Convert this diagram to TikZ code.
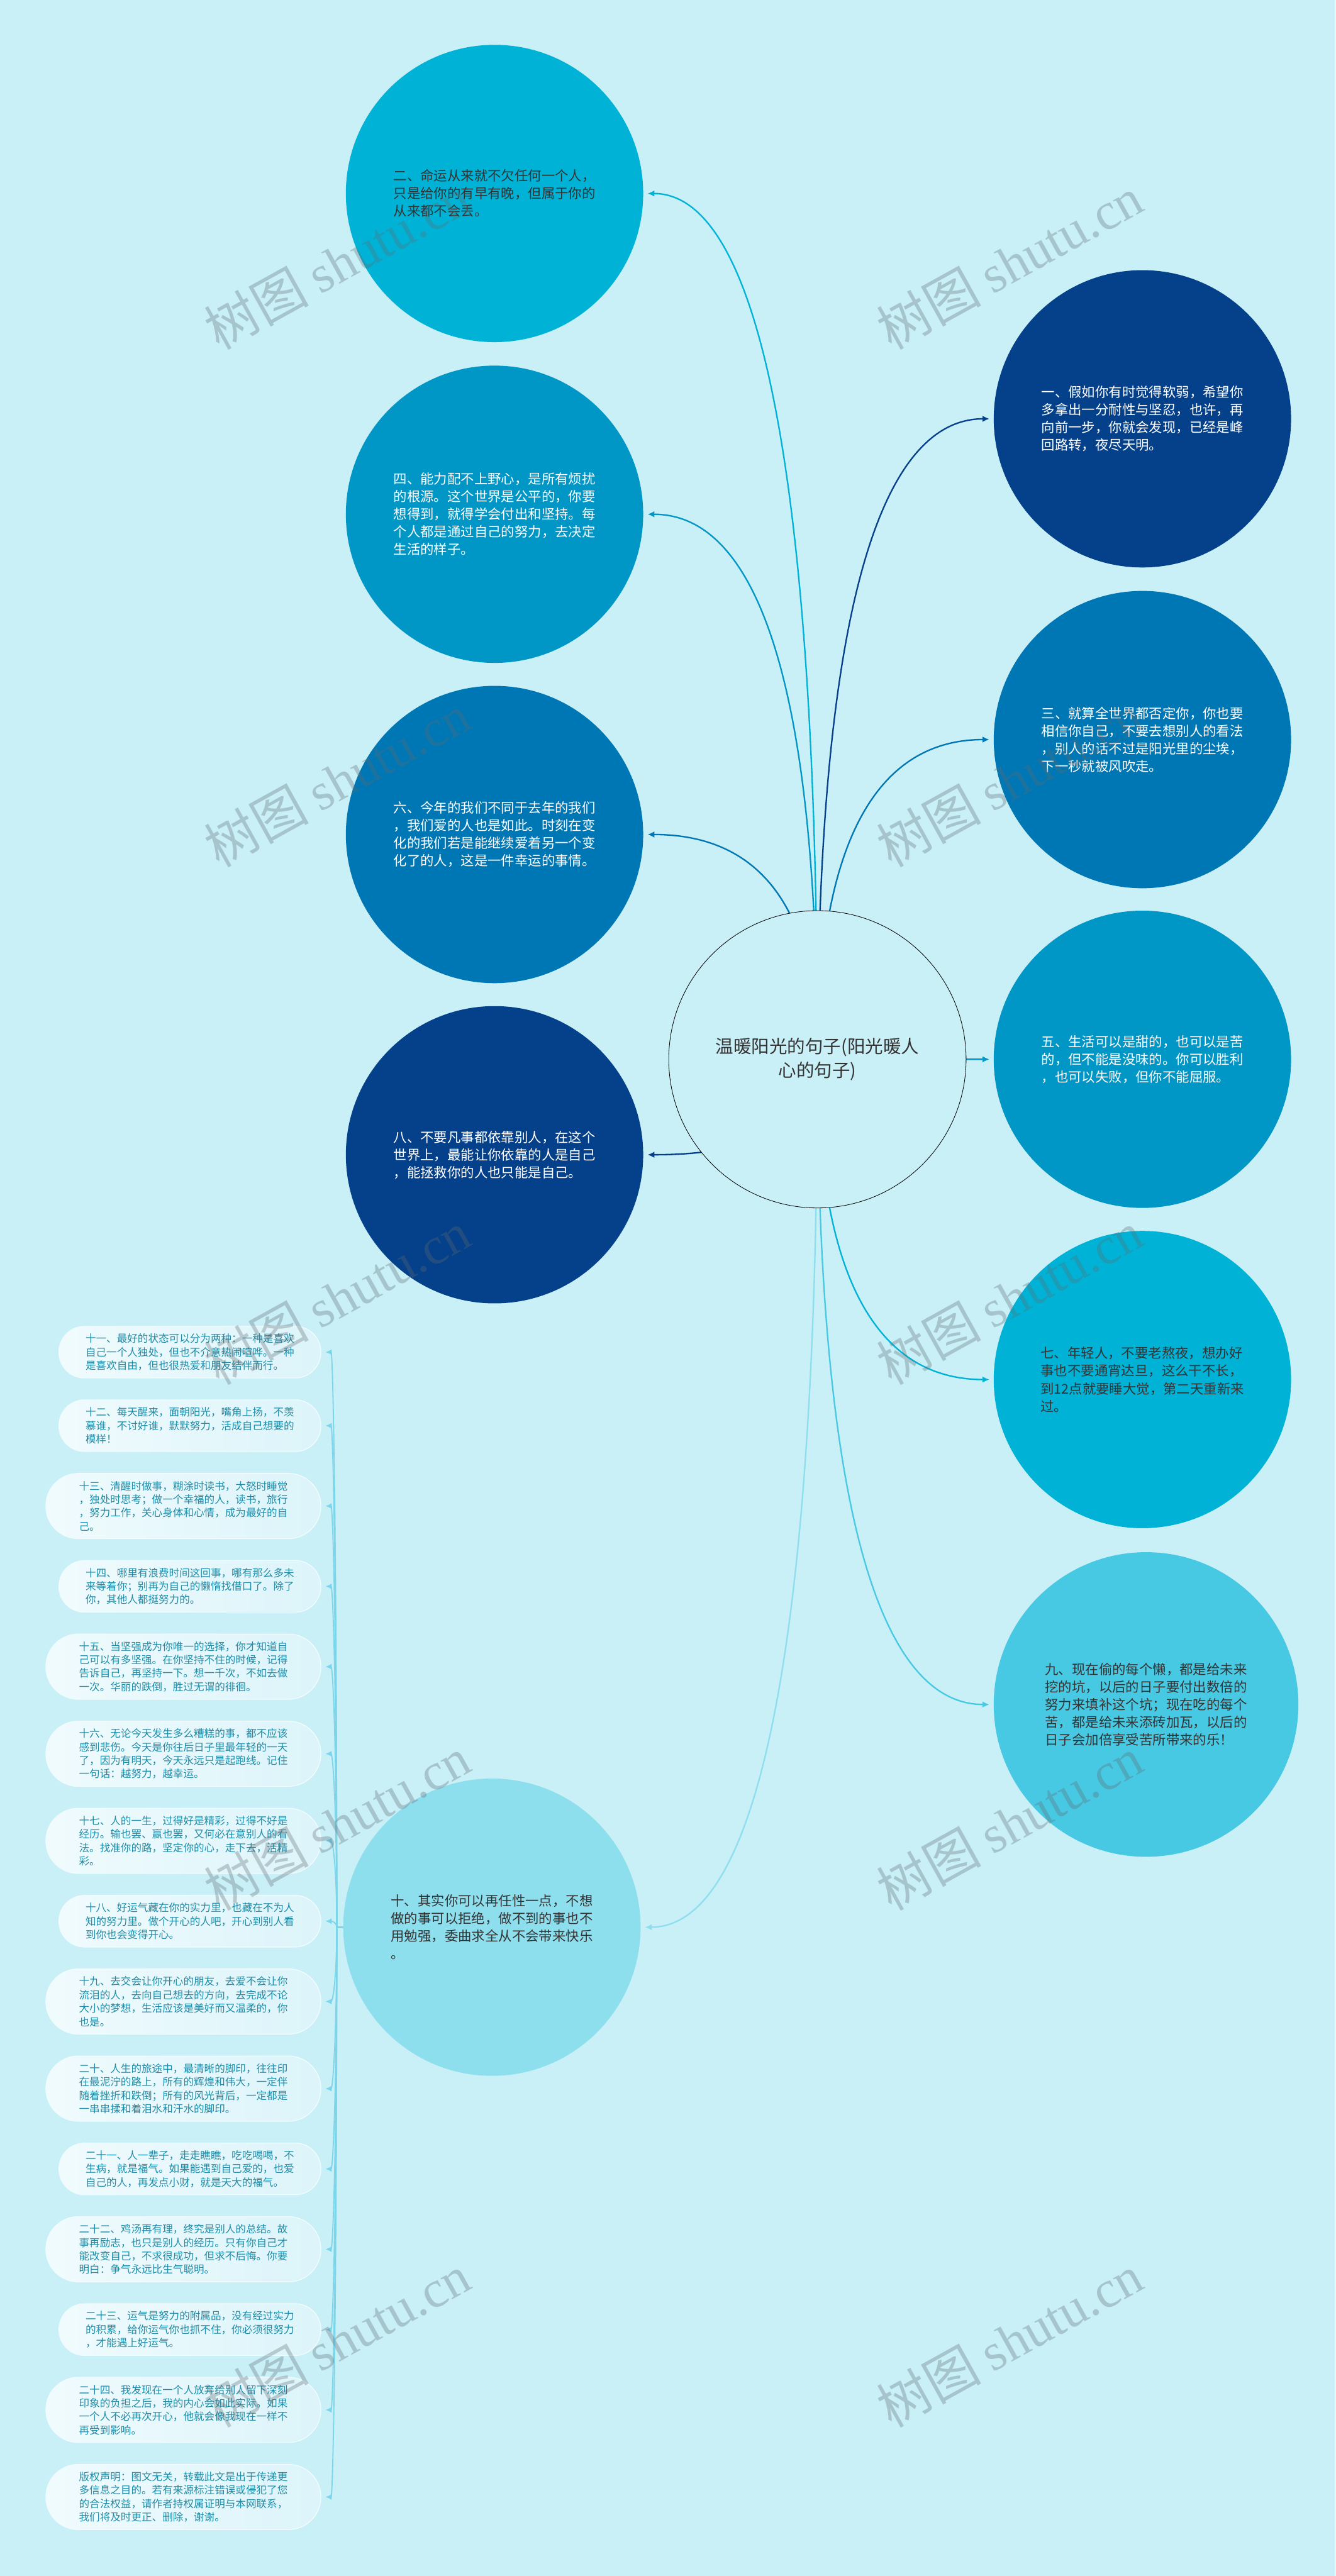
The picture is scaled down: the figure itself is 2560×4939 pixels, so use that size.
\documentclass[tikz,border=0pt]{standalone}
\usepackage{fontspec}
\setmainfont{Noto Sans CJK SC}
\newfontfamily\wmlatin{Liberation Serif}
\usetikzlibrary{arrows.meta,calc}
\definecolor{bgc}{HTML}{C9EFF7}
\definecolor{cA}{HTML}{00B2D6}
\definecolor{cB}{HTML}{0096C6}
\definecolor{cC}{HTML}{0077B5}
\definecolor{cD}{HTML}{05408A}
\definecolor{cE}{HTML}{48C9E3}
\definecolor{cF}{HTML}{8EDFEE}
\definecolor{txtdark}{HTML}{333333}
\definecolor{listtxt}{HTML}{1C8CA8}
\definecolor{listline}{HTML}{7DD5EA}
\definecolor{boxL}{HTML}{F0FBFD}
\definecolor{boxR}{HTML}{DCF4FA}
\definecolor{boxEdge}{HTML}{F2FCFE}
\definecolor{wm}{HTML}{5E6B70}
\pgfdeclarelayer{canvas}
\pgfdeclarelayer{lines}
\pgfsetlayers{canvas,lines,main}
\tikzset{
  bubble/.style={circle, minimum size=285pt, inner sep=0pt, align=left,
    font=\fontsize{12.9pt}{16.9pt}\selectfont},
  lightbubble/.style={bubble, text=txtdark},
  darkbubble/.style={bubble, text=white},
  centerbubble/.style={circle, minimum size=285pt, inner sep=0pt, align=center,
    draw=black, line width=0.5pt, fill=bgc, text=txtdark,
    font=\fontsize{17.2pt}{23pt}\selectfont},
  conn/.style={line width=1.4pt, -{Latex[length=6.5pt,width=6pt]}},
  listconn/.style={line width=1.1pt, draw=listline, -{Latex[length=6pt,width=5.5pt]}},
  listbox/.style={align=left, text=listtxt, font=\fontsize{10pt}{12.9pt}\selectfont,
    left color=boxL, right color=boxR, draw=boxEdge, line width=0.8pt, inner sep=0pt},
  boxthree/.style={listbox, rounded corners=24.5pt, minimum width=251pt, minimum height=49.5pt},
  boxfour/.style={listbox, rounded corners=31pt, minimum width=263.5pt, minimum height=62.5pt},
  wmark/.style={rotate=29, text=wm, opacity=0.32, inner sep=0pt,
    font=\fontsize{50pt}{50pt}\selectfont}
}
\newcommand\qcurve[3]{%
  \draw[#1] (#2) .. controls ($(#2)!0.6667!(#2 |- #3)$) and ($(#3)!0.6667!(#2 |- #3)$) .. (#3);}
\begin{document}
\begin{tikzpicture}[x=0.5pt,y=-0.5pt]
\useasboundingbox (0,0) rectangle (2560,4939);
\begin{pgfonlayer}{canvas}
\fill[bgc] (0,0) rectangle (2560,4939);
\end{pgfonlayer}

% centre
\node[centerbubble] (c) at (1567,2031) {温暖阳光的句子(阳光暖人\\心的句子)};

% left column
\node[lightbubble, fill=cA] (n2) at (948,371) {二、命运从来就不欠任何一个人，\\只是给你的有早有晚，但属于你的\\从来都不会丢。};
\node[darkbubble, fill=cB] (n4) at (948,986) {四、能力配不上野心，是所有烦扰\\的根源。这个世界是公平的，你要\\想得到，就得学会付出和坚持。每\\个人都是通过自己的努力，去决定\\生活的样子。};
\node[darkbubble, fill=cC] (n6) at (948,1600) {六、今年的我们不同于去年的我们\\，我们爱的人也是如此。时刻在变\\化的我们若是能继续爱着另一个变\\化了的人，这是一件幸运的事情。};
\node[darkbubble, fill=cD] (n8) at (948,2214) {八、不要凡事都依靠别人，在这个\\世界上，最能让你依靠的人是自己\\，能拯救你的人也只能是自己。};
\node[lightbubble, fill=cF] (n10) at (943,3695) {十、其实你可以再任性一点，不想\\做的事可以拒绝，做不到的事也不\\用勉强，委曲求全从不会带来快乐\\。};

% right column
\node[darkbubble, fill=cD] (n1) at (2190,803) {一、假如你有时觉得软弱，希望你\\多拿出一分耐性与坚忍，也许，再\\向前一步，你就会发现，已经是峰\\回路转，夜尽天明。};
\node[darkbubble, fill=cC] (n3) at (2190,1418) {三、就算全世界都否定你，你也要\\相信你自己，不要去想别人的看法\\，别人的话不过是阳光里的尘埃，\\下一秒就被风吹走。};
\node[darkbubble, fill=cB] (n5) at (2190,2031) {五、生活可以是甜的，也可以是苦\\的，但不能是没味的。你可以胜利\\，也可以失败，但你不能屈服。};
\node[lightbubble, fill=cA] (n7) at (2190,2645) {七、年轻人，不要老熬夜，想办好\\事也不要通宵达旦，这么干不长，\\到12点就要睡大觉，第二天重新来\\过。};
\node[lightbubble, fill=cE, minimum size=292pt] (n9) at (2197,3268) {九、现在偷的每个懒，都是给未来\\挖的坑，以后的日子要付出数倍的\\努力来填补这个坑；现在吃的每个\\苦，都是给未来添砖加瓦，以后的\\日子会加倍享受苦所带来的乐！};

% list
\node[boxthree] (b11) at (364,2592.5) {十一、最好的状态可以分为两种：一种是喜欢\\自己一个人独处，但也不介意热闹喧哗。一种\\是喜欢自由，但也很热爱和朋友结伴而行。};
\node[boxthree] (b12) at (364,2733.5) {十二、每天醒来，面朝阳光，嘴角上扬，不羡\\慕谁，不讨好谁，默默努力，活成自己想要的\\模样！};
\node[boxfour] (b13) at (351.5,2887.5) {十三、清醒时做事，糊涂时读书，大怒时睡觉\\，独处时思考；做一个幸福的人，读书，旅行\\，努力工作，关心身体和心情，成为最好的自\\己。};
\node[boxthree] (b14) at (364,3041.5) {十四、哪里有浪费时间这回事，哪有那么多未\\来等着你；别再为自己的懒惰找借口了。除了\\你，其他人都挺努力的。};
\node[boxfour] (b15) at (351.5,3195.5) {十五、当坚强成为你唯一的选择，你才知道自\\己可以有多坚强。在你坚持不住的时候，记得\\告诉自己，再坚持一下。想一千次，不如去做\\一次。华丽的跌倒，胜过无谓的徘徊。};
\node[boxfour] (b16) at (351.5,3362.5) {十六、无论今天发生多么糟糕的事，都不应该\\感到悲伤。今天是你往后日子里最年轻的一天\\了，因为有明天，今天永远只是起跑线。记住\\一句话：越努力，越幸运。};
\node[boxfour] (b17) at (351.5,3529.5) {十七、人的一生，过得好是精彩，过得不好是\\经历。输也罢、赢也罢，又何必在意别人的看\\法。找准你的路，坚定你的心，走下去，活精\\彩。};
\node[boxthree] (b18) at (364,3683.5) {十八、好运气藏在你的实力里，也藏在不为人\\知的努力里。做个开心的人吧，开心到别人看\\到你也会变得开心。};
\node[boxfour] (b19) at (351.5,3837.5) {十九、去交会让你开心的朋友，去爱不会让你\\流泪的人，去向自己想去的方向，去完成不论\\大小的梦想，生活应该是美好而又温柔的，你\\也是。};
\node[boxfour] (b20) at (351.5,4004.5) {二十、人生的旅途中，最清晰的脚印，往往印\\在最泥泞的路上，所有的辉煌和伟大，一定伴\\随着挫折和跌倒；所有的风光背后，一定都是\\一串串揉和着泪水和汗水的脚印。};
\node[boxthree] (b21) at (364,4158.5) {二十一、人一辈子，走走瞧瞧，吃吃喝喝，不\\生病，就是福气。如果能遇到自己爱的，也爱\\自己的人，再发点小财，就是天大的福气。};
\node[boxfour] (b22) at (351.5,4312.5) {二十二、鸡汤再有理，终究是别人的总结。故\\事再励志，也只是别人的经历。只有你自己才\\能改变自己，不求很成功，但求不后悔。你要\\明白：争气永远比生气聪明。};
\node[boxthree] (b23) at (364,4466.5) {二十三、运气是努力的附属品，没有经过实力\\的积累，给你运气你也抓不住，你必须很努力\\，才能遇上好运气。};
\node[boxfour] (b24) at (351.5,4620.5) {二十四、我发现在一个人放弃给别人留下深刻\\印象的负担之后，我的内心会如此实际。如果\\一个人不必再次开心，他就会像我现在一样不\\再受到影响。};
\node[boxfour] (b25) at (351.5,4787.5) {版权声明：图文无关，转载此文是出于传递更\\多信息之目的。若有来源标注错误或侵犯了您\\的合法权益，请作者持权属证明与本网联系，\\我们将及时更正、删除，谢谢。};

% connector ends
\coordinate (t2) at ([xshift=4pt]n2.east);
\coordinate (t4) at ([xshift=4pt]n4.east);
\coordinate (t6) at ([xshift=4pt]n6.east);
\coordinate (t8) at ([xshift=4pt]n8.east);
\coordinate (t10) at ([xshift=4pt]n10.east);
\coordinate (t1) at ([xshift=-4pt]n1.west);
\coordinate (t3) at ([xshift=-4pt]n3.west);
\coordinate (t5) at ([xshift=-4pt]n5.west);
\coordinate (t7) at ([xshift=-4pt]n7.west);
\coordinate (t9) at ([xshift=-4pt]n9.west);
\coordinate (s10) at ([xshift=-6pt]n10.west);

\begin{pgfonlayer}{lines}
\qcurve{conn, draw=cA, cA}{c.center}{t2}
\qcurve{conn, draw=cB, cB}{c.center}{t4}
\qcurve{conn, draw=cC, cC}{c.center}{t6}
\qcurve{conn, draw=cD, cD}{c.center}{t8}
\qcurve{conn, draw=cF, cF}{c.center}{t10}
\qcurve{conn, draw=cD, cD}{c.center}{t1}
\qcurve{conn, draw=cC, cC}{c.center}{t3}
\qcurve{conn, draw=cB, cB}{c.center}{t5}
\qcurve{conn, draw=cA, cA}{c.center}{t7}
\qcurve{conn, draw=cE, cE}{c.center}{t9}
\foreach \b in {b11,b12,b13,b14,b15,b16,b17,b18,b19,b20,b21,b22,b23,b24,b25}{
  \coordinate (e\b) at ([xshift=4pt]\b.east);
  \draw[listconn] (n10.west) -- (s10) .. controls ($(s10)!0.6667!(s10 |- e\b)$) and ($(e\b)!0.6667!(s10 |- e\b)$) .. (e\b);
}
\end{pgfonlayer}

% watermarks
\foreach \wy [count=\i] in {504,1496,2488,3496,4488}{
  \node[wmark] (wl\i) at (646,\wy) {树图 {\wmlatin shutu.cn}};
  \node[wmark] (wr\i) at (1935,\wy) {树图 {\wmlatin shutu.cn}};
}
\end{tikzpicture}
\end{document}
